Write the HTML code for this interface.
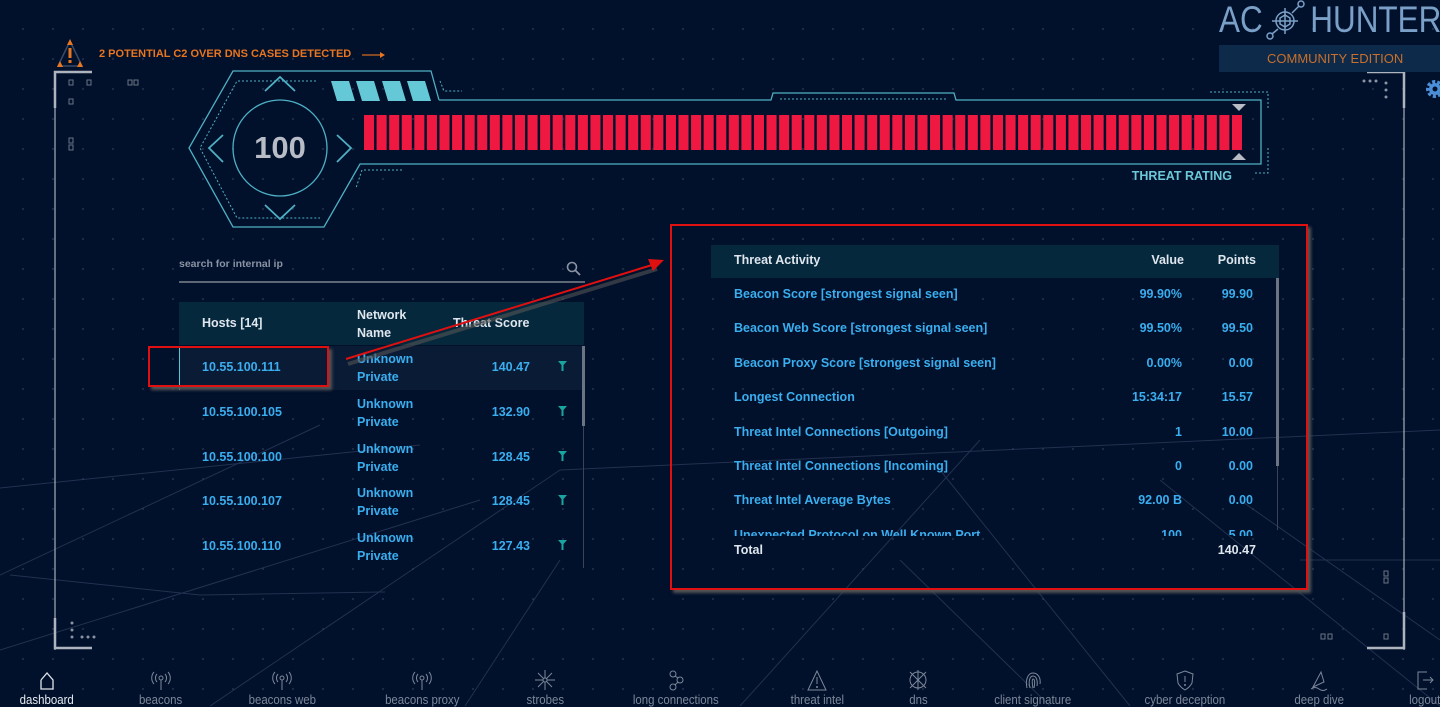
<!DOCTYPE html>
<html><head><meta charset="utf-8">
<style>
html,body{margin:0;padding:0}
body{width:1440px;height:706px;overflow:hidden;position:relative;background:#01102b;
background-image:radial-gradient(circle,#1c2c48 1px,transparent 1.3px);background-size:30px 30px;background-position:8px 14px;
font-family:"Liberation Sans",sans-serif;}
.abs{position:absolute}
.txt{font-weight:bold;font-size:12.5px;color:#3aaeef}
.hdr{font-weight:bold;font-size:12.5px;color:#dfe6ee}
.nav{position:absolute;top:670px;width:140px;margin-left:-70px;text-align:center;font-family:"Liberation Sans Narrow","Liberation Sans",sans-serif;font-size:13px;color:#7d8798}
.nav span{display:inline-block;transform:scaleX(0.88)}
.nav svg{display:block;margin:0 auto 1px}
</style></head>
<body>
<svg class="abs" style="left:0;top:0" width="1440" height="706">
<g stroke="#2a3a58" stroke-width="1" fill="none" opacity="0.8">
<line x1="0" y1="575" x2="320" y2="425"/>
<line x1="0" y1="488" x2="420" y2="445"/>
<line x1="10" y1="575" x2="200" y2="595"/>
<line x1="200" y1="595" x2="385" y2="592"/>
<line x1="0" y1="650" x2="480" y2="500"/>
<line x1="210" y1="706" x2="560" y2="470"/>
<line x1="465" y1="706" x2="560" y2="560"/>
<line x1="560" y1="470" x2="1440" y2="430"/>
<line x1="940" y1="470" x2="1130" y2="706"/>
<line x1="900" y1="560" x2="1050" y2="706"/>
<line x1="1160" y1="480" x2="1440" y2="706"/>
<line x1="1240" y1="500" x2="1440" y2="640"/>
<line x1="1300" y1="560" x2="1440" y2="560"/>
<line x1="740" y1="706" x2="980" y2="440"/>
</g>
<g stroke="#c9ced6" fill="none">
<line x1="55" y1="72" x2="55" y2="650" stroke-width="1"/>
<polyline points="92,72 55,72 55,108" stroke-width="2.5" stroke="#aeb4be"/>
<polyline points="55,618 55,648 92,648" stroke-width="2.5" stroke="#aeb4be"/>
<line x1="1404" y1="72" x2="1404" y2="650" stroke-width="1"/>
<polyline points="1367,72 1404,72 1404,108" stroke-width="2.5" stroke="#aeb4be"/>
<polyline points="1367,648 1404,648 1404,612" stroke-width="2.5" stroke="#aeb4be"/>
</g>
<g fill="none" stroke="#6c7484" stroke-width="1">
<rect x="69" y="80" width="4" height="5"/><rect x="87" y="80" width="4" height="5"/><rect x="128" y="80" width="4" height="5"/><rect x="134" y="80" width="4" height="5"/>
<rect x="69" y="99" width="4" height="5"/><rect x="69" y="138" width="4" height="5"/><rect x="69" y="145" width="4" height="5"/>
<rect x="1384" y="571" width="4" height="5"/><rect x="1384" y="578" width="4" height="5"/><rect x="1321" y="634" width="4" height="5"/><rect x="1328" y="634" width="4" height="5"/><rect x="1384" y="634" width="4" height="5"/>
</g>
<g fill="#8a93a3"><circle cx="72" cy="623" r="1.5"/><circle cx="72" cy="630" r="1.5"/><circle cx="72" cy="637" r="1.5"/><circle cx="82" cy="637" r="1.5"/><circle cx="88" cy="637" r="1.5"/><circle cx="94" cy="637" r="1.5"/>
<circle cx="1386" cy="83" r="1.5"/><circle cx="1386" cy="90" r="1.5"/><circle cx="1386" cy="97" r="1.5"/><circle cx="1364" cy="81" r="1.5"/><circle cx="1370" cy="81" r="1.5"/><circle cx="1376" cy="81" r="1.5"/></g>
</svg>

<svg class="abs" style="top:38px;left:54px" width="36" height="32">
<polygon points="16,3 4,28 28,28" fill="none" stroke="#3a4a66" stroke-width="1.5"/>
<polygon points="16,1 13,7 19,7" fill="#e8751f"/><polygon points="3,29 6,23 9,29" fill="#e8751f"/><polygon points="23,29 26,23 29,29" fill="#e8751f"/>
<rect x="14.5" y="10" width="3" height="10" fill="#e8751f"/><rect x="14.5" y="22" width="3" height="3" fill="#e8751f"/>
</svg>
<div class="abs" style="left:99px;top:48px;font-weight:bold;font-size:11px;color:#e8751f;font-family:'Liberation Sans Narrow','Liberation Sans',sans-serif;">2 POTENTIAL C2 OVER DNS CASES DETECTED</div>
<svg class="abs" style="left:362px;top:50px" width="24" height="10"><line x1="0" y1="5" x2="18" y2="5" stroke="#b05a20" stroke-width="1.5"/><polygon points="18,2 23,5 18,8" fill="#e8751f"/></svg>

<div class="abs" style="left:1219px;top:1px;font-size:37px;color:#7aa0c8;line-height:38px;white-space:nowrap;transform:scaleX(0.85);transform-origin:left top">AC<span style="display:inline-block;width:56px"></span>HUNTER</div>
<svg class="abs" style="left:1263px;top:0px" width="46" height="40"><g fill="none" stroke="#7aa0c8" stroke-width="1.5"><circle cx="22" cy="21" r="9"/><polygon points="22,15 27,18 27,24 22,27 17,24 17,18"/><line x1="22" y1="8" x2="22" y2="34"/><line x1="9" y1="21" x2="35" y2="21"/><line x1="29" y1="13" x2="36" y2="6"/><circle cx="38" cy="4" r="3"/><line x1="15" y1="29" x2="9" y2="34"/><circle cx="7" cy="36" r="3"/></g></svg>
<div class="abs" style="left:1219px;top:45px;width:221px;height:27px;background:#0d2a4a;color:#c8702c;font-size:13px;line-height:27px;font-family:'Liberation Sans Narrow','Liberation Sans',sans-serif"><span style="margin-left:48px">COMMUNITY EDITION</span></div>
<svg class="abs" style="left:1424px;top:78px" width="16" height="22"><circle cx="11" cy="11" r="7" fill="none" stroke="#4a8fd8" stroke-width="4" stroke-dasharray="3 2"/><circle cx="11" cy="11" r="6" fill="#4a8fd8"/><circle cx="11" cy="11" r="2.5" fill="#01102b"/></svg>

<svg class="abs" style="left:0;top:0" width="1440" height="240" id="gauge">
<g fill="none" stroke="#4fb0c4" stroke-width="1.3">
<polyline points="439,100 431,71 233,71 189,148 233,227 324,227 360,164 1261,164 1261,100 956,100 954,93 773,93 771,100 439,100"/>
<ellipse cx="280" cy="148" rx="47" ry="48"/>
<polyline points="316,81 237,81 200,148 237,218 320,218" stroke-dasharray="2 2" stroke-width="1"/>
<polyline points="440,81 444,91 462,91" stroke-dasharray="2 2" stroke-width="1"/>
<polyline points="362,170 356,188" stroke-dasharray="2 2" stroke-width="1"/>
<line x1="364" y1="170" x2="402" y2="170" stroke-dasharray="2 2" stroke-width="1"/>
<line x1="780" y1="100" x2="948" y2="100" stroke-dasharray="2 2" stroke-width="1" transform="translate(0,-1)"/>
<polyline points="1210,92 1268,92 1268,108" stroke-dasharray="2 2" stroke-width="1"/>
<polyline points="1268,148 1268,173 1253,173" stroke-dasharray="2 2" stroke-width="1"/>
<polyline points="265,91 280,77 295,91" stroke-width="1.8"/>
<polyline points="265,205 280,219 295,205" stroke-width="1.8"/>
<polyline points="223,135 209,148 223,162" stroke-width="1.8"/>
<polyline points="337,135 351,148 337,162" stroke-width="1.8"/>
</g>
<g fill="#65c8d6">
<polygon points="331,81 349,81 355,101 337,101"/><polygon points="356,81 374,81 380,101 362,101"/><polygon points="382,81 400,81 406,101 388,101"/><polygon points="407,81 425,81 431,101 413,101"/>
</g>
<g id="segs"></g>
<polygon points="1232,104 1246,104 1239,111" fill="#b8bcc4"/>
<polygon points="1232,160 1246,160 1239,153" fill="#b8bcc4"/>
<text x="280" y="158" text-anchor="middle" font-family="Liberation Sans" font-weight="bold" font-size="31" fill="#b8bcc6">100</text>
<text x="1232" y="180" text-anchor="end" font-family="Liberation Sans Narrow, Liberation Sans" font-weight="bold" font-size="12.5" fill="#6cc8d8">THREAT RATING</text>
</svg>

<div class="abs" style="left:179px;top:258px;width:406px;height:23px;border-bottom:2px solid #5e6776;font-size:10.5px;font-weight:bold;color:#8a93a3">search for internal ip</div>
<svg class="abs" style="left:566px;top:261px" width="16" height="16"><circle cx="6" cy="6" r="4.5" fill="none" stroke="#8a93a3" stroke-width="1.6"/><line x1="9.5" y1="9.5" x2="14" y2="14" stroke="#8a93a3" stroke-width="1.8"/></svg>

<div class="abs" style="left:179px;top:302px;width:405px;height:43px;background:#05283c"></div>
<div class="abs hdr" style="left:202px;top:316px">Hosts [14]</div>
<div class="abs hdr" style="left:357px;top:306px;line-height:18px">Network<br>Name</div>
<div class="abs hdr" style="left:453px;top:316px">Threat Score</div>
<div class="abs" style="left:179px;top:346px;width:403px;height:44px;background:#0a1b36;border-left:1px solid #4fc8d8"></div>
<div id="hostrows"></div>
<div class="abs" style="left:583px;top:346px;width:1px;height:222px;background:#3a4456"></div>
<div class="abs" style="left:582px;top:346px;width:3px;height:80px;background:#6c7482"></div>

<div class="abs" style="left:670px;top:224px;width:634px;height:362px;border:2px solid #e01010;box-shadow:3px 3px 3px #555"></div>
<div class="abs" style="left:711px;top:245px;width:568px;height:33px;background:#05283c"></div>
<div class="abs hdr" style="left:734px;top:253px">Threat Activity</div>
<div class="abs hdr" style="left:1100px;width:84px;text-align:right;top:253px">Value</div>
<div class="abs hdr" style="left:1180px;width:76px;text-align:right;top:253px">Points</div>
<div class="abs" style="left:711px;top:278px;width:566px;height:258px;overflow:hidden" id="actrows"></div>
<div class="abs" style="left:1277px;top:278px;width:1px;height:252px;background:#3a4456"></div>
<div class="abs" style="left:1276px;top:278px;width:3px;height:188px;background:#6c7482"></div>
<div class="abs hdr" style="left:734px;top:543px">Total</div>
<div class="abs hdr" style="left:1180px;width:76px;text-align:right;top:543px">140.47</div>

<div class="abs" style="left:148px;top:346px;width:177px;height:37px;border:2px solid #e01010;box-shadow:3px 3px 3px #555"></div>
<svg class="abs" style="left:0;top:0" width="1440" height="706" pointer-events="none">
<line x1="346" y1="361" x2="655" y2="266" stroke="#555" stroke-width="4" opacity="0.6" transform="translate(2,3)"/>
<line x1="346" y1="359" x2="652" y2="265" stroke="#e01010" stroke-width="2"/>
<polygon points="664,260 648,259 653,271" fill="#e01010"/>
</svg>

<div id="nav"></div>

<script>
const segmentCount = 70;
const threatRating = 100;
const g = document.getElementById('segs');
const x0 = 364, x1 = 1242, pitch = (x1 - x0 + 2.5) / segmentCount;
const lit = Math.round(segmentCount * threatRating / 100);
for (let i = 0; i < lit; i++) {
  const r = document.createElementNS('http://www.w3.org/2000/svg', 'rect');
  r.setAttribute('x', x0 + i * pitch); r.setAttribute('y', 115);
  r.setAttribute('width', pitch - 2.5); r.setAttribute('height', 35);
  r.setAttribute('fill', '#ee1840');
  
  
  g.appendChild(r);
}

const hostIps = ['10.55.100.111','10.55.100.105','10.55.100.100','10.55.100.107','10.55.100.110'];
const hostScores = ['140.47','132.90','128.45','128.45','127.43'];
const hr = document.getElementById('hostrows');
hostIps.forEach((ip, i) => {
  const y = 346 + i * 44.8;
  const a = document.createElement('div');
  a.className = 'abs txt'; a.style.left = '202px'; a.style.top = (y + 14) + 'px'; a.textContent = ip;
  
  
  hr.appendChild(a);
  const n = document.createElement('div');
  n.className = 'abs txt'; n.style.left = '357px'; n.style.top = (y + 4) + 'px'; n.style.lineHeight = '18px';
  n.innerHTML = 'Unknown<br>Private';
  
  
  hr.appendChild(n);
  const s = document.createElement('div');
  s.className = 'abs txt'; s.style.left = '450px'; s.style.width = '80px'; s.style.textAlign = 'right'; s.style.top = (y + 14) + 'px'; s.textContent = hostScores[i];
  
  
  hr.appendChild(s);
  const f = document.createElementNS('http://www.w3.org/2000/svg', 'svg');
  f.setAttribute('width', 10); f.setAttribute('height', 10);
  f.setAttribute('class', 'abs'); f.style.left = '558px'; f.style.top = (y + 15) + 'px';
  f.innerHTML = '<polygon points="0,0 9,0 5.5,4 5.5,10 3.5,10 3.5,4" fill="#1aa6a0"/>';
  
  
  hr.appendChild(f);
});

const activityNames = ['Beacon Score [strongest signal seen]','Beacon Web Score [strongest signal seen]','Beacon Proxy Score [strongest signal seen]','Longest Connection','Threat Intel Connections [Outgoing]','Threat Intel Connections [Incoming]','Threat Intel Average Bytes','Unexpected Protocol on Well Known Port'];
const activityValues = ['99.90%','99.50%','0.00%','15:34:17','1','0','92.00 B','100'];
const activityPoints = ['99.90','99.50','0.00','15.57','10.00','0.00','0.00','5.00'];
const ar = document.getElementById('actrows');
activityNames.forEach((nm, i) => {
  const y = 9 + i * 34.4;
  const a = document.createElement('div');
  a.className = 'abs txt'; a.style.left = '23px'; a.style.top = y + 'px'; a.textContent = nm;
  
  
  ar.appendChild(a);
  const v = document.createElement('div');
  v.className = 'abs txt'; v.style.left = '371px'; v.style.width = '100px'; v.style.textAlign = 'right'; v.style.top = y + 'px'; v.textContent = activityValues[i];
  
  
  ar.appendChild(v);
  const p = document.createElement('div');
  p.className = 'abs txt'; p.style.left = '462px'; p.style.width = '80px'; p.style.textAlign = 'right'; p.style.top = y + 'px'; p.textContent = activityPoints[i];
  
  
  ar.appendChild(p);
});

const navLabels = ['dashboard','beacons','beacons web','beacons proxy','strobes','long connections','threat intel','dns','client signature','cyber deception','deep dive','logout'];
const navX = [47,161,282,422,545,676,817,918,1033,1185,1319,1425];
const icons = {
 'dashboard':'<polyline points="4,10 10,3 16,10 16,19 4,19 4,10" fill="none" stroke="#dfe4ea" stroke-width="1.3"/>',
 'radio':'<circle cx="10" cy="8" r="2" fill="none" stroke="#7d8798"/><line x1="10" y1="10" x2="10" y2="20" stroke="#7d8798"/><path d="M6,4 A6,6 0 0 0 6,12 M14,4 A6,6 0 0 1 14,12 M3,2 A9,9 0 0 0 3,14 M17,2 A9,9 0 0 1 17,14" fill="none" stroke="#7d8798"/>',
 'strobes':'<g stroke="#7d8798"><line x1="10" y1="0" x2="10" y2="20"/><line x1="0" y1="10" x2="20" y2="10"/><line x1="3" y1="3" x2="17" y2="17"/><line x1="17" y1="3" x2="3" y2="17"/></g><circle cx="10" cy="10" r="2" fill="#01102b" stroke="#7d8798"/>',
 'long':'<g fill="none" stroke="#7d8798"><circle cx="7" cy="4" r="3"/><circle cx="14" cy="10" r="3"/><circle cx="7" cy="17" r="3"/><line x1="9" y1="6" x2="12" y2="8"/><line x1="12" y1="12" x2="9" y2="15"/></g>',
 'intel':'<polygon points="10,1 1,20 19,20" fill="none" stroke="#7d8798"/><line x1="10" y1="7" x2="10" y2="14" stroke="#7d8798"/><circle cx="10" cy="17" r="1" fill="#7d8798"/>',
 'dns':'<g fill="none" stroke="#7d8798"><circle cx="10" cy="10" r="8"/><line x1="2" y1="2" x2="18" y2="18"/><line x1="18" y1="2" x2="2" y2="18"/><line x1="10" y1="0" x2="10" y2="20"/></g>',
 'finger':'<g fill="none" stroke="#7d8798"><path d="M4,18 C2,10 5,3 10,3 C15,3 18,8 17,14"/><path d="M7,18 C5,11 7,6 10,6 C13,6 15,10 14,16"/><path d="M10,18 C9,14 9,9 10,9 C12,9 12,13 11,18"/></g>',
 'shield':'<path d="M10,1 L18,4 L17,13 C15,17 10,20 10,20 C10,20 5,17 3,13 L2,4 Z" fill="none" stroke="#7d8798"/><line x1="10" y1="6" x2="10" y2="12" stroke="#7d8798"/><circle cx="10" cy="15" r="1" fill="#7d8798"/>',
 'dive':'<path d="M4,17 L12,2 L15,12 Z" fill="none" stroke="#7d8798"/><path d="M2,19 Q6,16 10,19 T18,19" fill="none" stroke="#7d8798"/>',
 'logout':'<polyline points="12,2 3,2 3,19 12,19" fill="none" stroke="#7d8798"/><line x1="8" y1="10" x2="18" y2="10" stroke="#7d8798"/><polyline points="15,7 18,10 15,13" fill="none" stroke="#7d8798"/>'
};
const navIcon = ['dashboard','radio','radio','radio','strobes','long','intel','dns','finger','shield','dive','logout'];
const nav = document.getElementById('nav');
navLabels.forEach((l, i) => {
  const d = document.createElement('div');
  d.className = 'nav'; d.style.left = navX[i] + 'px';
  if (i === 0) d.style.color = '#e6ebf0';
  d.innerHTML = '<svg width="20" height="21">' + icons[navIcon[i]] + '</svg><span>' + l + '</span>';
  
  
  nav.appendChild(d);
});
</script>
</body></html>
